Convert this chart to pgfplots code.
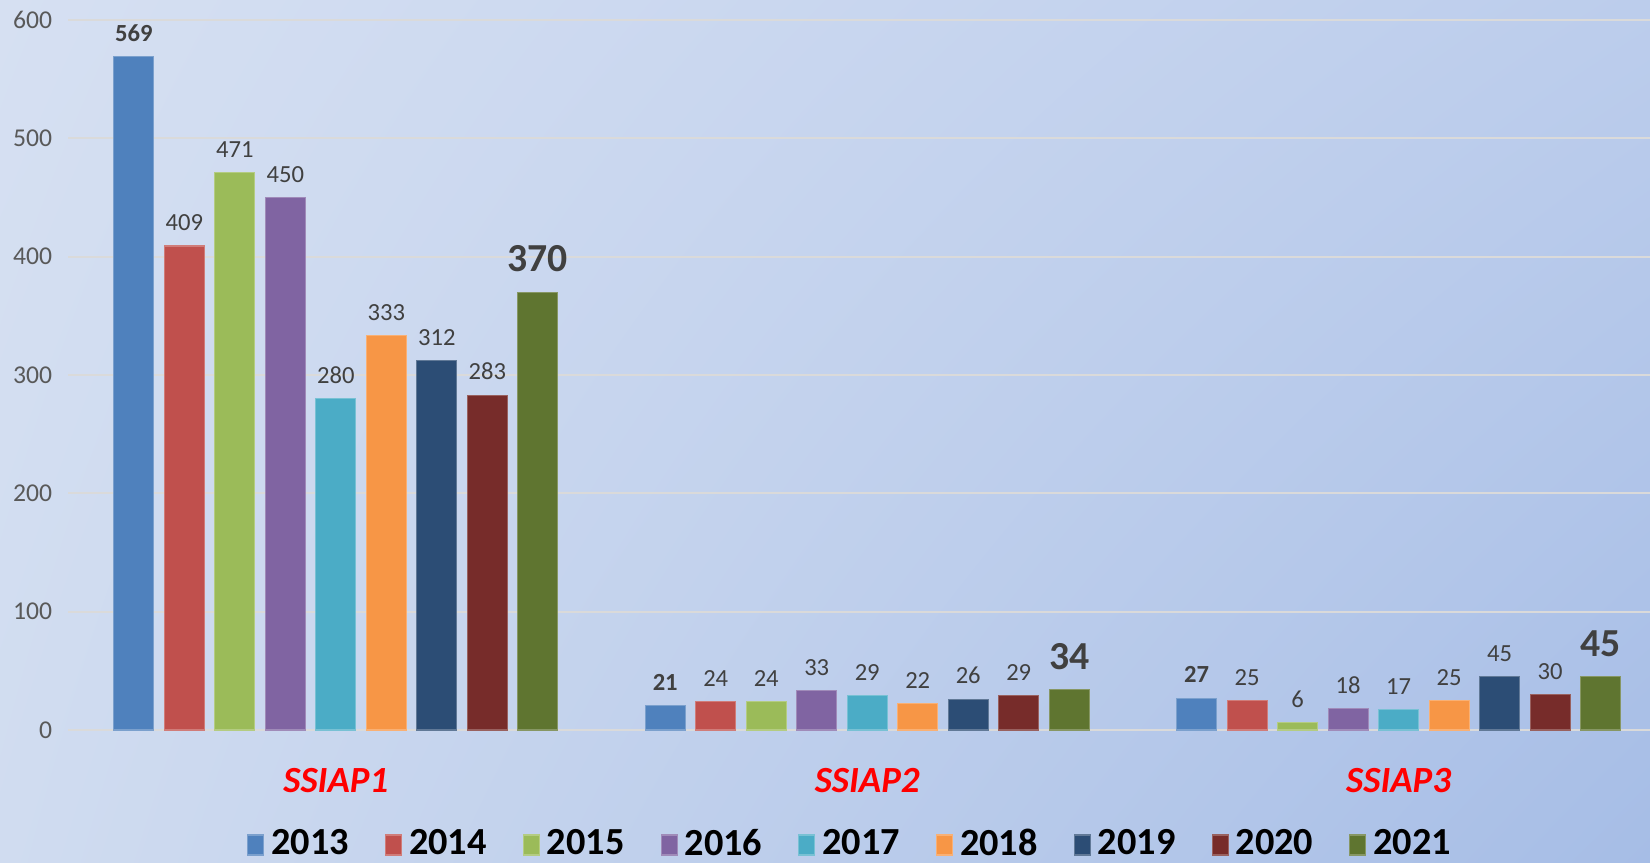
\documentclass[border=0pt]{standalone}
\usepackage{pgfplots}
\pgfplotsset{compat=1.18}
\usetikzlibrary{shadings}
\usepackage{fontspec}
\setmainfont{Carlito}

% Excel 2010 palette
\definecolor{c2013}{HTML}{4F81BD}
\definecolor{c2014}{HTML}{C0504D}
\definecolor{c2015}{HTML}{9BBB59}
\definecolor{c2016}{HTML}{8064A2}
\definecolor{c2017}{HTML}{4BACC6}
\definecolor{c2018}{HTML}{F79646}
\definecolor{c2019}{HTML}{2C4D75}
\definecolor{c2020}{HTML}{772C2A}
\definecolor{c2021}{HTML}{5F7530}
\definecolor{labelgray}{HTML}{404040}
\definecolor{tickgray}{HTML}{595959}
\definecolor{gridgray}{HTML}{DADADA}
\definecolor{bgUL}{HTML}{D6E0F2}
\definecolor{bgUR}{HTML}{BCCDEC}
\definecolor{bgLL}{HTML}{D0DCF0}
\definecolor{bgLR}{HTML}{A6BDE6}

\pgfplotsset{
  yearbar/.style={fill=#1, draw=#1!75!white, line width=0.3pt},
}

\begin{document}
\begin{tikzpicture}
  % background
  \shade[upper left=bgUL, upper right=bgUR, lower left=bgLL, lower right=bgLR]
    (0,0) rectangle (16.5,8.63);

  \begin{axis}[
      at={(0.68cm,1.33cm)}, anchor=south west,
      scale only axis,
      width=15.82cm, height=7.10cm,
      xmin=-0.504, xmax=2.473,
      ymin=0, ymax=600,
      ytick={0,100,...,600},
      xtick={0,1,2},
      xticklabels={SSIAP1, SSIAP2, SSIAP3},
      axis line style={draw=none},
      major tick length=0pt,
      ymajorgrids,
      grid style={gridgray, line width=0.6pt},
      yticklabel style={tickgray, font=\fontsize{7.3}{8}\selectfont, xshift=-1pt},
      /pgf/number format/assume math mode=true,
      xticklabel style={red, font=\fontsize{10.5}{11}\selectfont\bfseries\itshape, yshift=-0.26cm},
      ybar, bar width=0.40cm,
      nodes near coords,
      every node near coord/.append style={labelgray, font=\fontsize{7}{8}\selectfont, yshift=0.8pt},
      clip=false,
      legend columns=9,
      legend style={draw=none, fill=none, at={(0.496,-0.162)}, anchor=center,
        font=\fontsize{10.9}{12}\selectfont\bfseries,
        /tikz/every even column/.append style={column sep=0.29cm}},
      legend image code/.code={\fill[#1] (0cm,-0.1cm) rectangle (0.16cm,0.1cm);},
    ]
    \addplot[yearbar=c2013, bar shift=-2.02cm,
      every node near coord/.append style={font=\fontsize{7}{8}\selectfont\bfseries}]
      coordinates {(0,569) (1,21) (2,27)};
    \addplot[yearbar=c2014, bar shift=-1.515cm] coordinates {(0,409) (1,24) (2,25)};
    \addplot[yearbar=c2015, bar shift=-1.01cm]  coordinates {(0,471) (1,24) (2,6)};
    \addplot[yearbar=c2016, bar shift=-0.505cm] coordinates {(0,450) (1,33) (2,18)};
    \addplot[yearbar=c2017, bar shift=0cm]      coordinates {(0,280) (1,29) (2,17)};
    \addplot[yearbar=c2018, bar shift=0.505cm]  coordinates {(0,333) (1,22) (2,25)};
    \addplot[yearbar=c2019, bar shift=1.01cm]   coordinates {(0,312) (1,26) (2,45)};
    \addplot[yearbar=c2020, bar shift=1.515cm]  coordinates {(0,283) (1,29) (2,30)};
    \addplot[yearbar=c2021, bar shift=2.02cm,
      every node near coord/.append style={font=\fontsize{11.3}{12}\selectfont\bfseries, yshift=1.5pt}]
      coordinates {(0,370) (1,34) (2,45)};
    \legend{2013,2014,2015,2016,2017,2018,2019,2020,2021}
  \end{axis}
  \pgfresetboundingbox
  \path[use as bounding box] (0,0) rectangle (16.5,8.63);
\end{tikzpicture}
\end{document}
